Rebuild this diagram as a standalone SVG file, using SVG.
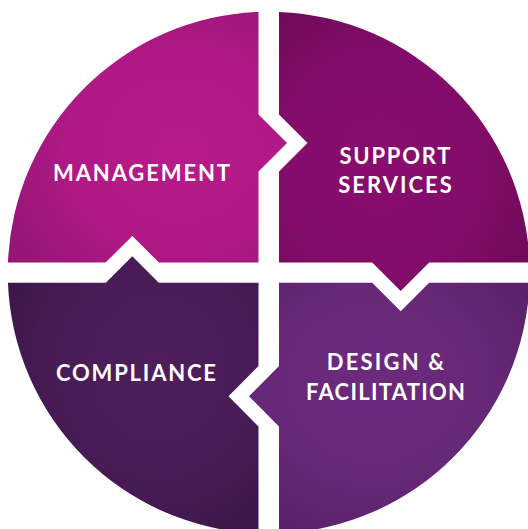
<svg xmlns="http://www.w3.org/2000/svg" width="528" height="529" viewBox="0 0 528 529">
  <defs>
    <radialGradient id="gMgmt" cx="0.62" cy="0.55" r="0.7">
      <stop offset="0" stop-color="#b81a8a"/>
      <stop offset="0.55" stop-color="#b11986"/>
      <stop offset="1" stop-color="#951676"/>
    </radialGradient>
    <radialGradient id="gSupp" cx="0.4" cy="0.55" r="0.7">
      <stop offset="0" stop-color="#890d6f"/>
      <stop offset="0.55" stop-color="#830c6a"/>
      <stop offset="1" stop-color="#6e0a58"/>
    </radialGradient>
    <radialGradient id="gDesign" cx="0.45" cy="0.4" r="0.7">
      <stop offset="0" stop-color="#6c2a7e"/>
      <stop offset="0.55" stop-color="#682878"/>
      <stop offset="1" stop-color="#562166"/>
    </radialGradient>
    <radialGradient id="gComp" cx="0.6" cy="0.4" r="0.7">
      <stop offset="0" stop-color="#4d1e5b"/>
      <stop offset="0.55" stop-color="#491c57"/>
      <stop offset="1" stop-color="#3b1747"/>
    </radialGradient>
  </defs>
  <style>
    .lbl { font-family: Lato, "Liberation Sans", sans-serif; font-weight: 700; font-size: 22px; fill: #ffffff; text-anchor: middle; }
  </style>
  <rect width="528" height="529" fill="#ffffff"/>
  <g id="connectors"></g>
  <g id="management">
    <path d="M258.5,11.9 L258.5,114.5 L287,143 L258.5,171.5 L258.5,262.6 L159,262.6 L132.3,235.9 L105.6,262.6 L7.95,262.6 A261,261 0 0 1 258.5,11.9 Z" fill="url(#gMgmt)"/>
    <text class="lbl" x="141.5" y="180.5" textLength="177" lengthAdjust="spacing">MANAGEMENT</text>
  </g>
  <g id="support">
    <path d="M279,11.9 A261,261 0 0 1 529.55,262.6 L429.2,262.6 L400.7,291.1 L372.2,262.6 L279,262.6 L279,171.5 L307.5,143 L279,114.5 Z" fill="url(#gSupp)"/>
    <text class="lbl" x="395" y="163.5" textLength="111" lengthAdjust="spacing">SUPPORT</text>
    <text class="lbl" x="395" y="192.5" textLength="113.5" lengthAdjust="spacing">SERVICES</text>
  </g>
  <g id="design">
    <path d="M279,282.8 L372.2,282.8 L400.7,311.3 L429.2,282.8 L529.55,282.8 A261,261 0 0 1 279,533.5 L279,426.6 L249,396.3 L279,366 Z" fill="url(#gDesign)"/>
    <text class="lbl" x="385.5" y="369.5" textLength="117.5" lengthAdjust="spacing">DESIGN &amp;</text>
    <text class="lbl" x="385.5" y="400" textLength="159" lengthAdjust="spacing">FACILITATION</text>
  </g>
  <g id="compliance">
    <path d="M7.95,282.8 L105.8,282.8 L132.3,256.3 L158.8,282.8 L258.5,282.8 L258.5,366 L228.5,396.3 L258.5,426.6 L258.5,533.5 A261,261 0 0 1 7.95,282.8 Z" fill="url(#gComp)"/>
    <text class="lbl" x="136" y="381" textLength="160" lengthAdjust="spacing">COMPLIANCE</text>
  </g>
</svg>
